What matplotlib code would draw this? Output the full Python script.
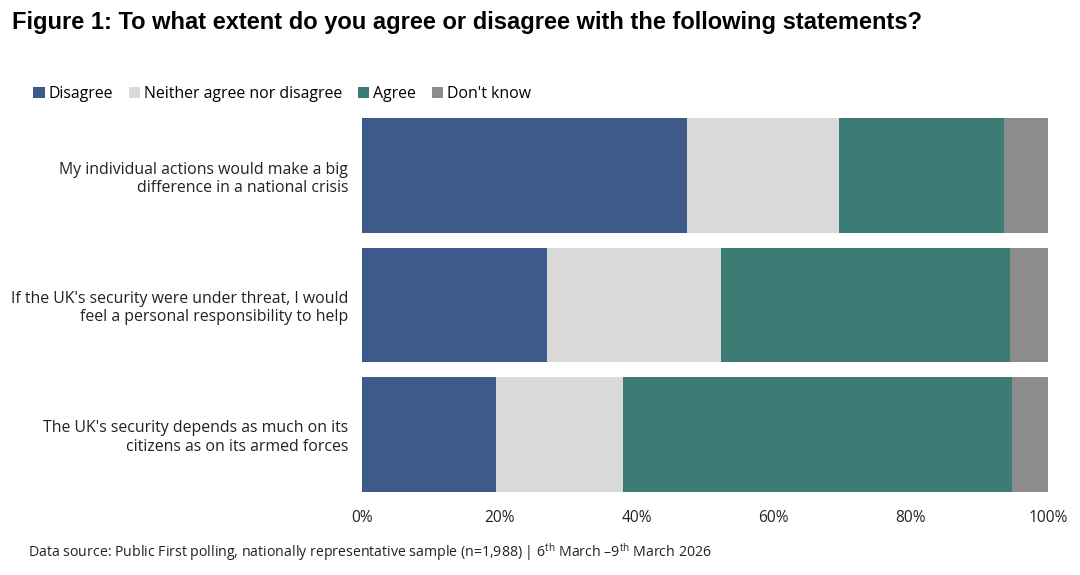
import numpy as np
import matplotlib.pyplot as plt
from matplotlib.ticker import FuncFormatter

plt.rcParams['font.family'] = ['Open Sans', 'DejaVu Sans']
plt.rcParams['mathtext.fontset'] = 'custom'
plt.rcParams['mathtext.rm'] = 'Open Sans'

statements = [
    "My individual actions would make a big\ndifference in a national crisis",
    "If the UK's security were under threat, I would\nfeel a personal responsibility to help",
    "The UK's security depends as much on its\ncitizens as on its armed forces",
]
categories = ["Disagree", "Neither agree nor disagree", "Agree", "Don't know"]
disagree = [47.4, 26.9, 19.5]
neither = [22.1, 25.5, 18.6]
agree = [24.1, 42.0, 56.7]
dont_know = [6.4, 5.6, 5.2]
colors = ["#3e5a8a", "#d9d9d9", "#3c7c74", "#8c8c8c"]

fig = plt.figure(figsize=(10.8, 5.75), dpi=100)
ax = fig.add_axes([0.3352, 0.132, 0.6352, 0.675])

y = np.arange(len(statements))
left = np.zeros(len(statements))
for name, vals, c in zip(categories, [disagree, neither, agree, dont_know], colors):
    ax.barh(y, vals, left=left, height=0.888, color=c, label=name)
    left += np.array(vals)

ax.set_ylim(2.5, -0.5)
ax.set_xlim(0, 100)
ax.set_xticks([0, 20, 40, 60, 80, 100])
ax.xaxis.set_major_formatter(FuncFormatter(lambda v, p: f"{v:.0f}%"))
ax.set_yticks(y)
ax.set_yticklabels(statements, fontsize=11.4, color="#222222")
ax.tick_params(axis="both", length=0, colors="#222222", labelsize=11.2)
ax.tick_params(axis="y", pad=10, labelsize=11.4)
ax.tick_params(axis="x", pad=8)
for s in ax.spines.values():
    s.set_visible(False)

ax.legend(loc="lower left", bbox_to_anchor=(0.031, 0.822), bbox_transform=fig.transFigure,
          ncol=4, frameon=False, fontsize=11.4, handlelength=0.7, handleheight=0.7,
          handletextpad=0.25, columnspacing=1.0, borderaxespad=0, borderpad=0)

fig.text(0.011, 0.96, "Figure 1: To what extent do you agree or disagree with the following statements?",
         fontsize=17, fontweight="bold", family="Liberation Sans", va="center", ha="left")

fig.text(0.026, 0.04,
         r"Data source: Public First polling, nationally representative sample (n=1,988) | 6$^{\mathrm{th}}$ March –9$^{\mathrm{th}}$ March 2026",
         fontsize=10.2, va="center", ha="left", color="#222222")

fig.savefig("out.png", dpi=100, facecolor="white")
